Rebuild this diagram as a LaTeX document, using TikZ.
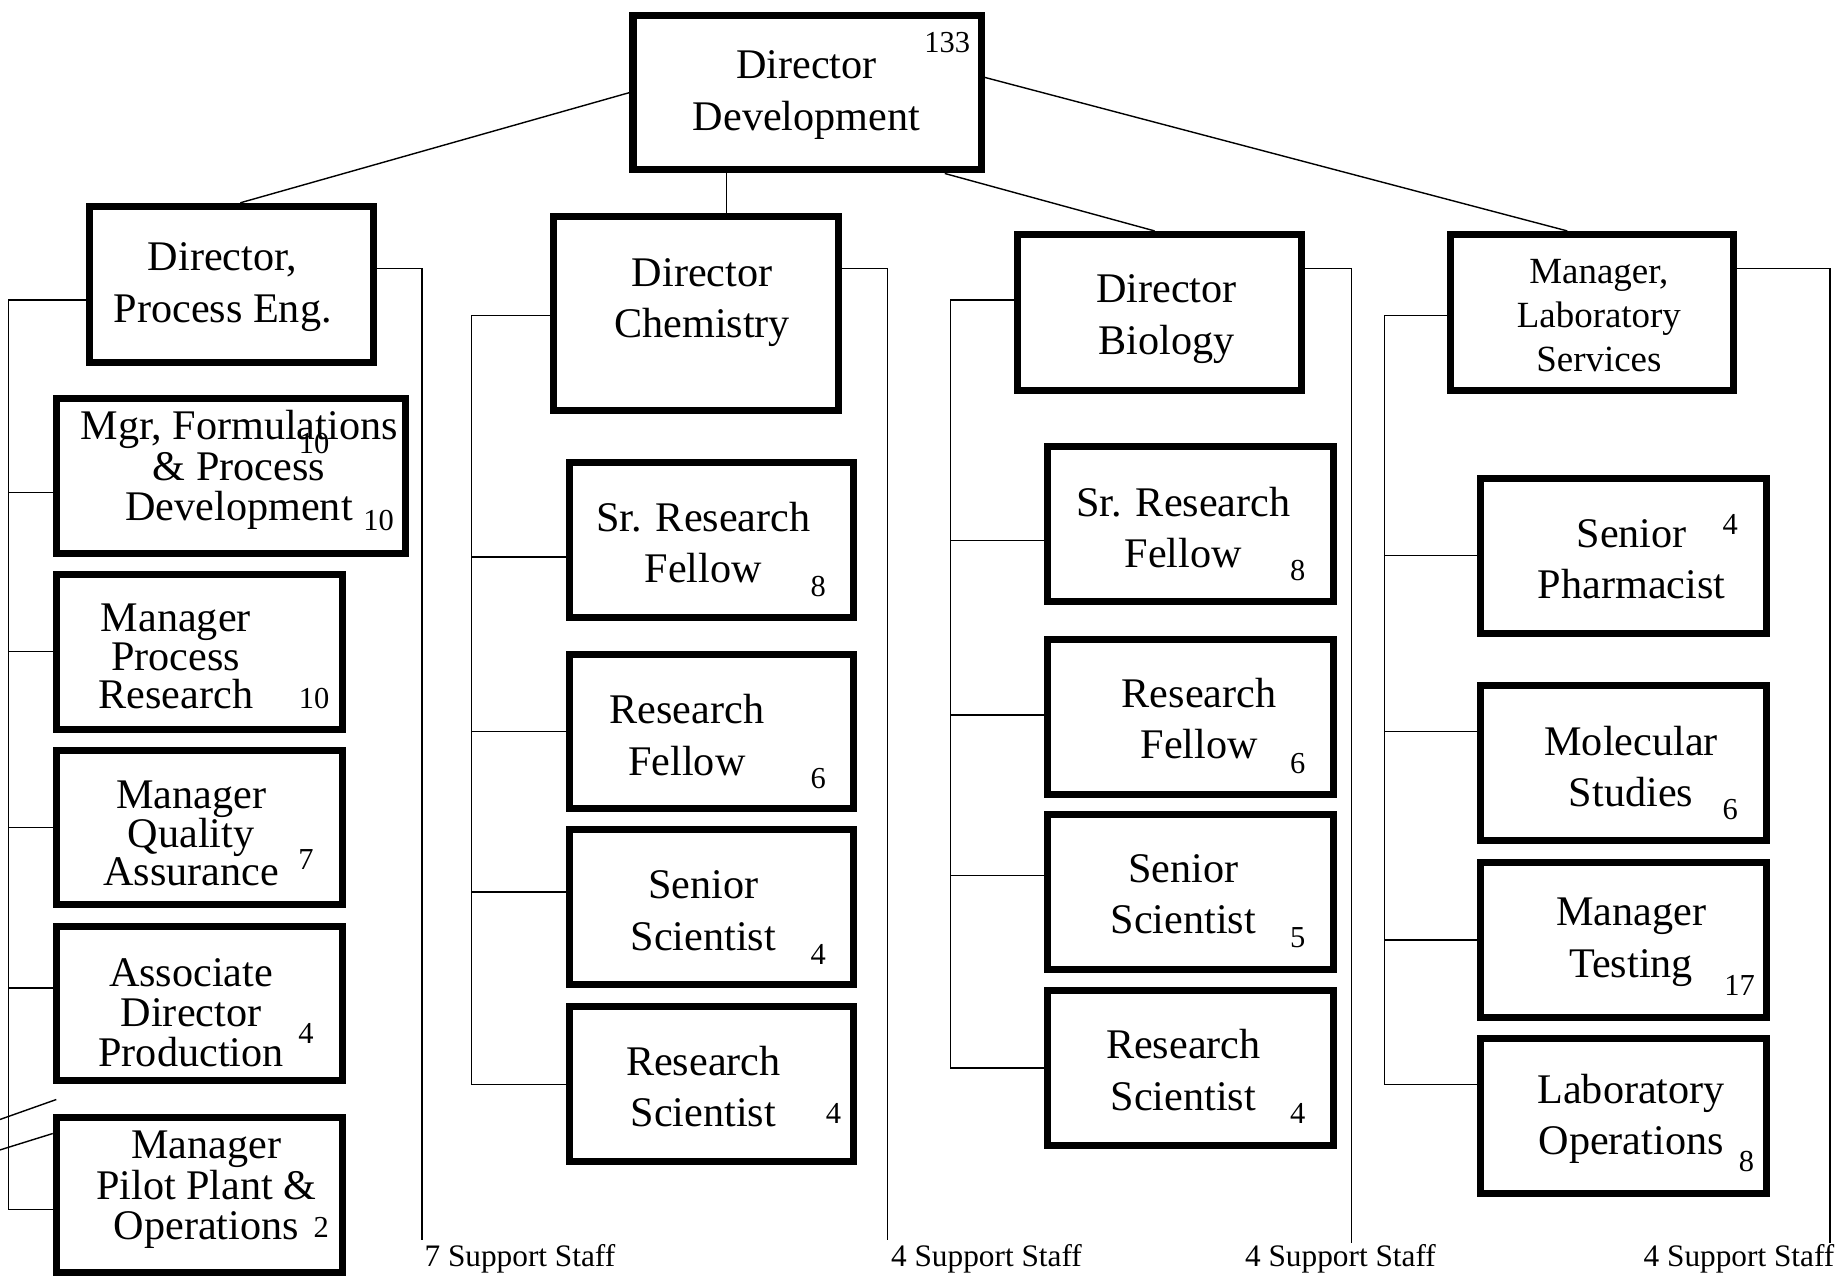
\documentclass[tikz,border=0pt]{standalone}
\usepackage{fontspec}
\setmainfont{Liberation Serif}
\begin{document}
\begin{tikzpicture}[x=1pt,y=-1pt,
  box/.style={draw, line width=6pt, inner sep=0pt},
  wide/.style={minimum width=244pt, minimum height=132pt},
  lbl/.style={align=center, inner sep=0pt, font=\fontsize{36}{44}\selectfont},
  tight/.style={font=\fontsize{36}{34.5}\selectfont},
  num/.style={inner sep=0pt, font=\fontsize{26}{30}\selectfont},
  staff/.style={anchor=west, inner sep=0pt, font=\fontsize{26.7}{31}\selectfont},
  conn/.style={line width=1.2pt}]
\useasboundingbox (0,0) rectangle (1568,1090);

% ---------- boxes ----------
\node[box, minimum width=297pt, minimum height=132pt] (top) at (688.5,79) {};
\node[box, minimum width=243pt, minimum height=133pt] (pe) at (197.5,242.5) {};
\node[box, minimum width=243pt, minimum height=165pt] (chem) at (593.5,267.5) {};
\node[box, minimum width=242pt, minimum height=133pt] (bio) at (989,266.5) {};
\node[box, minimum width=242pt, minimum height=133pt] (lab) at (1358,266.5) {};

\node[box, minimum width=298pt, minimum height=132pt] (c1a) at (197,406) {};
\node[box, wide] (c1b) at (170,556.5) {};
\node[box, wide] (c1c) at (170,706) {};
\node[box, wide] (c1d) at (170,856) {};
\node[box, wide] (c1e) at (170,1019.5) {};

\node[box, wide, minimum width=242pt] (c2a) at (607,460.5) {};
\node[box, wide, minimum width=242pt] (c2b) at (607,624) {};
\node[box, wide, minimum width=242pt] (c2c) at (607,774) {};
\node[box, wide, minimum width=242pt] (c2d) at (607,924.5) {};

\node[box, wide] (c3a) at (1016,447) {};
\node[box, wide] (c3b) at (1016,611.5) {};
\node[box, wide] (c3c) at (1016,761) {};
\node[box, wide] (c3d) at (1016,911) {};

\node[box, wide] (c4a) at (1385,474.5) {};
\node[box, wide] (c4b) at (1385,651) {};
\node[box, wide] (c4c) at (1385,802) {};
\node[box, wide] (c4d) at (1385,952) {};

% ---------- texts ----------
\node[lbl] (ttop) at (688,81) {Director\\Development};
\node[num] (ntop) at (808,36) {133};
\node[lbl] (tpe) at (190,245) {Director,\\Process Eng.};
\node[lbl] (tchem) at (599,258) {Director\\Chemistry};
\node[lbl] (tbio) at (995,272) {Director\\Biology};
\node[lbl, font=\fontsize{31.5}{37.5}\selectfont] (tlab) at (1364,269) {Manager,\\Laboratory\\Services};

\node[lbl, tight] (tc1a) at (204,401) {Mgr, Formulations\\\& Process\\Development};
\node[num] (nc1a1) at (268,378) {10};
\node[num] (nc1a2) at (323,444) {10};
\node[lbl, font=\fontsize{36}{33}\selectfont] (tc1b) at (150,560) {Manager\\Process\\Research};
\node[num] (nc1b) at (268,596) {10};
\node[lbl, font=\fontsize{36}{33}\selectfont] (tc1c) at (163,711) {Manager\\Quality\\Assurance};
\node[num] (nc1c) at (261,733) {7};
\node[lbl, tight] (tc1d) at (163,864) {Associate\\Director\\Production};
\node[num] (nc1d) at (261,882) {4};
\node[lbl, tight] (tc1e) at (176,1015) {Manager\\Pilot Plant \&\\Operations};
\node[num] (nc1e) at (274,1047) {2};

\node[lbl] (tc2a) at (600,463) {Sr. Research\\Fellow};
\node[num] (nc2a) at (698,500) {8};
\node[lbl] (tc2b) at (586,627) {Research\\Fellow};
\node[num] (nc2b) at (698,664) {6};
\node[lbl] (tc2c) at (600,777) {Senior\\Scientist};
\node[num] (nc2c) at (698,814) {4};
\node[lbl] (tc2d) at (600,927) {Research\\Scientist};
\node[num] (nc2d) at (711,950) {4};

\node[lbl] (tc3a) at (1009.5,450) {Sr. Research\\Fellow};
\node[num] (nc3a) at (1107,487) {8};
\node[lbl] (tc3b) at (1023,613) {Research\\Fellow};
\node[num] (nc3b) at (1107,651) {6};
\node[lbl] (tc3c) at (1009.5,763) {Senior\\Scientist};
\node[num] (nc3c) at (1107,800) {5};
\node[lbl] (tc3d) at (1009.5,913) {Research\\Scientist};
\node[num] (nc3d) at (1107,950) {4};

\node[lbl] (tc4a) at (1392,477) {Senior\\Pharmacist};
\node[num] (nc4a) at (1476,447) {4};
\node[lbl] (tc4b) at (1391.5,654) {Molecular\\Studies};
\node[num] (nc4b) at (1476,691) {6};
\node[lbl] (tc4c) at (1391.5,804) {Manager\\Testing};
\node[num] (nc4c) at (1484,841) {17};
\node[lbl] (tc4d) at (1391.5,954.5) {Laboratory\\Operations};
\node[num] (nc4d) at (1490,991) {8};

% ---------- support staff labels ----------
\node[staff] (s1) at (362,1074) {7 Support Staff};
\node[staff] (s2) at (760,1074) {4 Support Staff};
\node[staff] (s3) at (1062,1074) {4 Support Staff};
\node[staff] (s4) at (1402,1074) {4 Support Staff};

\coordinate (e1) at (360,1058);
\coordinate (e2) at (757,1058);
\coordinate (e3) at (1153,1060);
\coordinate (e4) at (1561,1060);

% ---------- connectors from top ----------
\draw[conn] (top.west) -- (pe.north -| 205,0);
\draw[conn] (top.south -| 620,0) -- (chem.north -| 620,0);
\draw[conn] (top.south -| 806,0) -- (bio.north -| 985,0);
\draw[conn] (top.east |- 0,66) -- (lab.north -| 1337,0);

% ---------- support lines ----------
\draw[conn] (pe.east |- 0,229) -| (e1);
\draw[conn] (chem.east |- 0,229) -| (e2);
\draw[conn] (bio.east |- 0,229) -| (e3);
\draw[conn] (lab.east |- 0,229) -| (e4);

% ---------- column 1 tree ----------
\draw[conn] (pe.west |- 0,256) -- (7,256) -- (7,1032) -- (c1e.west |- 0,1032);
\draw[conn] (7,420) -- (c1a.west |- 0,420);
\draw[conn] (7,556) -- (c1b.west |- 0,556);
\draw[conn] (7,706) -- (c1c.west |- 0,706);
\draw[conn] (7,843) -- (c1d.west |- 0,843);
\coordinate (d1) at (0,955);
\coordinate (d1e) at (48,938);
\coordinate (d2) at (0,981);
\draw[conn] (d1) -- (d1e);
\draw[conn] (d2) -- (c1e.west |- 0,967);

% ---------- column 2 tree ----------
\draw[conn] (chem.west |- 0,269) -- (402,269) -- (402,925) -- (c2d.west |- 0,925);
\draw[conn] (402,475) -- (c2a.west |- 0,475);
\draw[conn] (402,624) -- (c2b.west |- 0,624);
\draw[conn] (402,761) -- (c2c.west |- 0,761);

% ---------- column 3 tree ----------
\draw[conn] (bio.west |- 0,256) -- (811,256) -- (811,911) -- (c3d.west |- 0,911);
\draw[conn] (811,461) -- (c3a.west |- 0,461);
\draw[conn] (811,610) -- (c3b.west |- 0,610);
\draw[conn] (811,747) -- (c3c.west |- 0,747);

% ---------- column 4 tree ----------
\draw[conn] (lab.west |- 0,269) -- (1181,269) -- (1181,925) -- (c4d.west |- 0,925);
\draw[conn] (1181,474) -- (c4a.west |- 0,474);
\draw[conn] (1181,624) -- (c4b.west |- 0,624);
\draw[conn] (1181,802) -- (c4c.west |- 0,802);
\end{tikzpicture}
\end{document}
